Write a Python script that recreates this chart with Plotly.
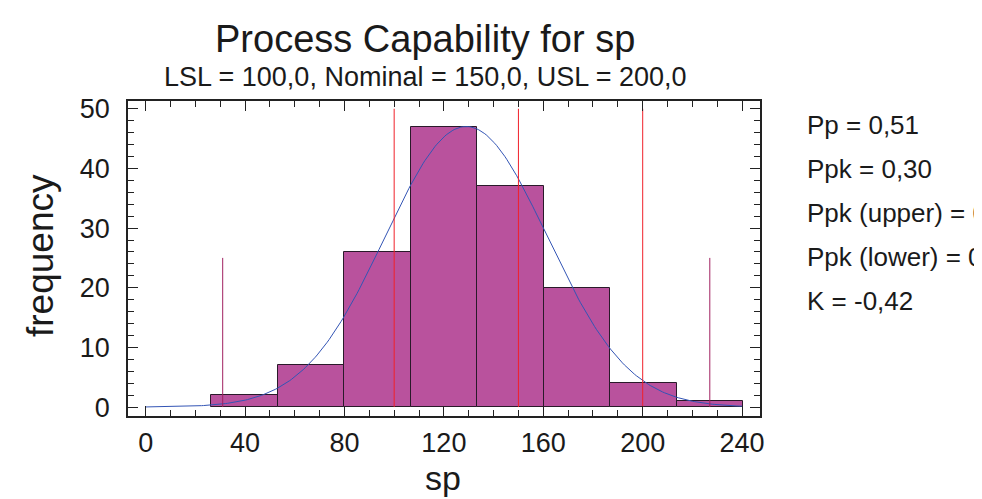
import numpy as np
import plotly.graph_objects as go

# ---- data ----
bin_edges = [26.4, 53.15, 79.9, 106.65, 133.4, 160.15, 186.9, 213.65, 240.4]
counts = [2, 7, 26, 47, 37, 20, 4, 1]
spec_limits = [100.0, 150.0, 200.0]          # LSL, Nominal, USL
spec_height = 50
fit_mean = 129.0
fit_sigma = 32.68
sigma_lines = [31.0, 227.0]                   # mean +/- 3 sigma
sigma_height = 25
curve_range = [0, 240]
stats_text = ["Pp = 0,51", "Ppk = 0,30", "Ppk (upper) = 0,72", "Ppk (lower) = 0,30", "K = -0,42"]
x_ticks = [0, 40, 80, 120, 160, 200, 240]
y_ticks = [0, 10, 20, 30, 40, 50]

FONT = "Liberation Sans, Arial, sans-serif"
TXT = "#1a1a1a"

centers = [(bin_edges[i] + bin_edges[i + 1]) / 2 for i in range(len(counts))]
widths = [bin_edges[i + 1] - bin_edges[i] for i in range(len(counts))]
n_total = sum(counts)

fig = go.Figure()
fig.add_trace(go.Bar(
    x=centers, y=counts, width=widths,
    marker=dict(color="#b9529d", line=dict(color="#2a1a2a", width=1)),
    hoverinfo="x+y", showlegend=False,
))

# fitted normal curve from the fit parameters
xs = np.linspace(curve_range[0], curve_range[1], 300)
scale = n_total * widths[0] / (fit_sigma * np.sqrt(2 * np.pi))
ys = scale * np.exp(-0.5 * ((xs - fit_mean) / fit_sigma) ** 2)
fig.add_trace(go.Scatter(x=xs, y=ys, mode="lines",
                         line=dict(color="#3355b5", width=1), showlegend=False))

# spec limit lines
for v in spec_limits:
    fig.add_trace(go.Scatter(x=[v, v], y=[0, spec_height], mode="lines",
                             line=dict(color="#f0202a", width=1), showlegend=False))
for v in sigma_lines:
    fig.add_trace(go.Scatter(x=[v, v], y=[0, sigma_height], mode="lines",
                             line=dict(color="#a02060", width=1), showlegend=False))

fig.update_layout(
    width=982, height=499,
    margin=dict(l=120, r=230, t=93, b=91),
    paper_bgcolor="white", plot_bgcolor="white",
    font=dict(family=FONT, color=TXT),
    bargap=0,
)

PW, PH = 632, 315  # plot area size in px

axis_common = dict(showline=True, linecolor="#222", linewidth=1.5, mirror="ticks",
                   ticks="inside", ticklen=10, tickcolor="#222", showgrid=False,
                   zeroline=False, tickfont=dict(size=27, family=FONT, color=TXT))
fig.update_xaxes(range=[-7.1, 247.2], tickvals=x_ticks, ticklabelstandoff=2,
                 minor=dict(dtick=10, ticks="inside", ticklen=6, tickcolor="#222", tick0=0),
                 **axis_common)
fig.update_yaxes(range=[-1.5, 51.3], tickvals=y_ticks, ticklabelstandoff=11,
                 minor=dict(dtick=2, ticks="inside", ticklen=6, tickcolor="#222", tick0=0),
                 **axis_common)

# axis titles
fig.add_annotation(text="sp", xref="paper", yref="paper",
                   x=(435 - 120) / PW, y=0, yshift=-(470 - 408), xanchor="center", yanchor="middle",
                   showarrow=False, font=dict(size=34, family=FONT, color=TXT))
fig.add_annotation(text="frequency", xref="paper", yref="paper", textangle=-90,
                   x=0, xshift=-(120 - 32), y=(408 - 248) / PH, xanchor="center", yanchor="middle",
                   showarrow=False, font=dict(size=37, family=FONT, color=TXT))

# titles
fig.add_annotation(text="Process Capability for sp", xref="paper", yref="paper",
                   x=(417 - 120) / PW, y=1, yshift=93 - 31, xanchor="center", yanchor="middle",
                   showarrow=False, font=dict(size=38, family=FONT, color=TXT))
fig.add_annotation(text="LSL = 100,0, Nominal = 150,0, USL = 200,0", xref="paper", yref="paper",
                   x=(417 - 120) / PW, y=1, yshift=93 - 69, xanchor="center", yanchor="middle",
                   showarrow=False, font=dict(size=27, family=FONT, color=TXT))

for i, t in enumerate(stats_text):
    fig.add_annotation(text=t, xref="paper", yref="paper", x=1, xshift=(797 - 752),
                       y=1, yshift=-(117 - 93) - i * 44, xanchor="left", yanchor="middle",
                       showarrow=False, font=dict(size=26, family=FONT, color=TXT))

fig.write_html("out.html")
